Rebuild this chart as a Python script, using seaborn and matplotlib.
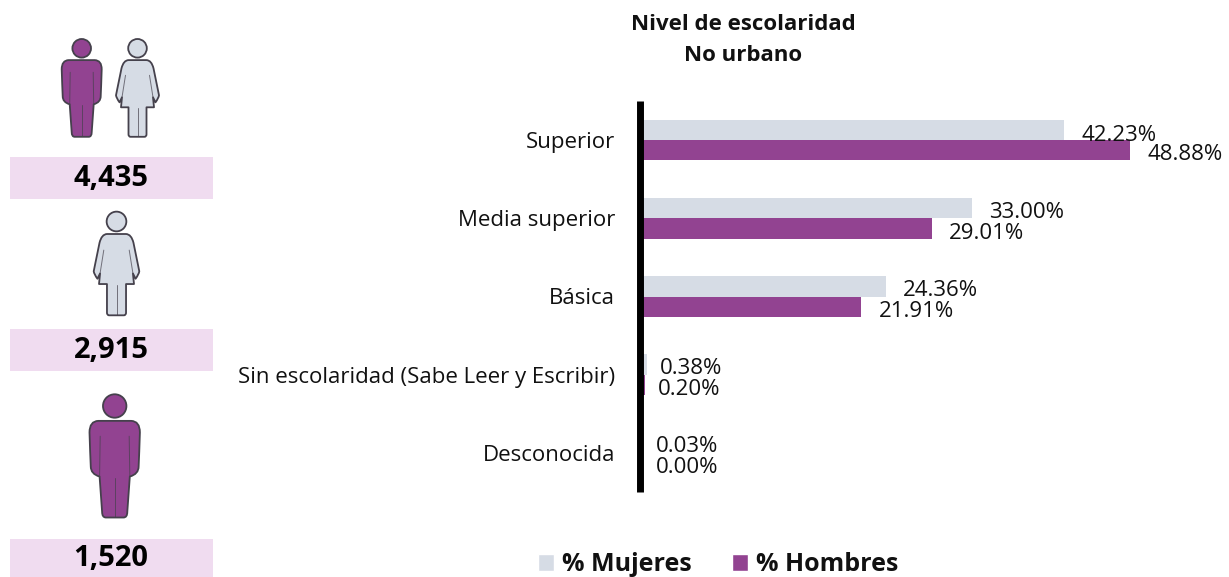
import matplotlib
matplotlib.use("Agg")
import matplotlib.pyplot as plt
from matplotlib.path import Path
from matplotlib.patches import PathPatch, Circle, Rectangle
import pandas as pd
import seaborn as sns

categories = ["Superior", "Media superior", "Básica",
              "Sin escolaridad (Sabe Leer y Escribir)", "Desconocida"]
mujeres = [42.23, 33.00, 24.36, 0.38, 0.03]
hombres = [48.88, 29.01, 21.91, 0.20, 0.00]
series_names = ["% Mujeres", "% Hombres"]
totals = ["4,435", "2,915", "1,520"]
title = "Nivel de escolaridad\nNo urbano"

C_M = "#d6dce5"
C_H = "#924391"
C_BOX = "#f0dcf0"
C_LINE = "#45414c"
FONT = "Open Sans"

sns.set_theme(style="white")
plt.rcParams["font.family"] = [FONT, "DejaVu Sans"]

W, H = 1229, 577
fig = plt.figure(figsize=(W / 100, H / 100), dpi=100, facecolor="white")
ax = fig.add_axes([643 / W, 1 - 492 / H, (W - 643) / W, (492 - 101) / H])

df = pd.DataFrame({
    "cat": categories * 2,
    "pct": mujeres + hombres,
    "serie": [series_names[0]] * 5 + [series_names[1]] * 5,
})
sns.barplot(data=df, y="cat", x="pct", hue="serie", ax=ax, order=categories,
            palette=[C_M, C_H], saturation=1, width=0.52, gap=0, legend=False,
            linewidth=0)
ax.set_xlim(0, (W - 643) / 9.97)
ax.set_ylim(4.5, -0.5)
ax.set_xlabel("")
ax.set_ylabel("")
ax.set_xticks([])
ax.tick_params(axis="y", length=0, pad=17.5, labelsize=16, labelcolor="#111111")
for s in ["top", "right", "bottom"]:
    ax.spines[s].set_visible(False)
ax.spines["left"].set_position(("outward", 2.5))
ax.spines["left"].set_linewidth(5)
ax.spines["left"].set_color("black")
ax.spines["left"].set_capstyle("butt")
ax.patch.set_alpha(0)

for i, (m, h) in enumerate(zip(mujeres, hombres)):
    up, down = (5, 14) if i == 0 else (6, 15)
    for v, dy in ((m, up), (h, -down)):
        ax.annotate(f"{v:.2f}%", xy=(v, i), xytext=(17 if v >= 1 else 13, dy),
                    textcoords="offset pixels", ha="left", va="center",
                    fontsize=16, color="#111111", annotation_clip=False)

fig.text(743 / W, 1 - 40 / H, title, ha="center", va="center", fontsize=16,
         fontweight="bold", color="#111111", linespacing=1.6)

# Left-hand panel, drawn in pixel coordinates
ov = fig.add_axes([0, 0, 1, 1], zorder=-1)
ov.set_xlim(0, W)
ov.set_ylim(H, 0)
ov.axis("off")

M, L, C = Path.MOVETO, Path.LINETO, Path.CURVE3


def outline(pts, codes, cx, cy, s, fc):
    v = [(cx + x * s, cy + y * s) for x, y in pts]
    ov.add_patch(PathPatch(Path(v, codes), fc=fc, ec=C_LINE, lw=1.3, joinstyle="round"))


def stroke(pts, cx, cy, s):
    ov.plot([cx + x * s for x, y in pts], [cy + y * s for x, y in pts],
            color=C_LINE, lw=0.7, alpha=0.7, solid_capstyle="round")


def man(cx, cy, s):
    ov.add_patch(Circle((cx, cy), 9.3 * s, fc=C_H, ec=C_LINE, lw=1.3))
    half = [(0, 11.8), (-13, 11.8), (-20, 12), (-20, 21), (-19.5, 36), (-19, 48), (-19, 54), (-12, 56),
            (-10, 84), (-10, 88.5), (-7, 88.5), (0, 88.5)]
    right = [(-x, y) for x, y in reversed(half[:-1])]
    pts = half + right
    codes = [M, L, C, C, L, L, C, C, L, C, C, L]
    codes += [L, C, C, L, C, C, L, L, C, C, L]
    outline(pts, codes, cx, cy, s, C_H)
    stroke([(-11.5, 24), (-12, 56)], cx, cy, s)
    stroke([(11.5, 24), (12, 56)], cx, cy, s)
    stroke([(0, 57), (0, 88)], cx, cy, s)


def woman(cx, cy, s):
    ov.add_patch(Circle((cx, cy), 9.3 * s, fc=C_M, ec=C_LINE, lw=1.3))
    half = [(0, 11.8), (-9, 11.8), (-14, 12), (-16, 20), (-20.5, 42), (-21.5, 47),
            (-21, 50), (-18, 54), (-15.5, 49), (-16.5, 59), (-9, 59), (-9, 86), (-9, 88.5), (-7, 88.5), (0, 88.5)]
    right = [(-x, y) for x, y in reversed(half[:-1])]
    pts = half + right
    codes = [M, L, C, C, L, L, C, C, L, L, L, L, C, C, L]
    codes += [L, C, C, L, L, L, L, C, C, L, L, C, C, L]
    outline(pts, codes, cx, cy, s, C_M)
    stroke([(-12, 27), (-15.5, 49)], cx, cy, s)
    stroke([(12, 27), (15.5, 49)], cx, cy, s)
    stroke([(0, 60), (0, 88)], cx, cy, s)


man(81.7, 48.3, 1.0)
woman(137.5, 48.3, 1.0)
woman(116.5, 221.5, 1.06)
man(114.7, 406, 1.26)

box_tops = [157, 329, 539]
box_bottoms = [199, 371, 577]
for t, b, label in zip(box_tops, box_bottoms, totals):
    ov.add_patch(Rectangle((10, t), 203, b - t, fc=C_BOX, ec="none"))
    ov.text(111, (t + b) / 2 + 1, label, ha="center", va="center", fontsize=21,
            fontweight="bold", color="black")

# Legend
handles = [Rectangle((0, 0), 1, 1, fc=C_M), Rectangle((0, 0), 1, 1, fc=C_H)]
fig.legend(handles, series_names, loc="center", bbox_to_anchor=(718 / W, 1 - 564.5 / H),
           ncol=2, frameon=False, handlelength=0.66, handleheight=0.66, handletextpad=0.3,
           columnspacing=1.6, prop={"family": FONT, "weight": "bold", "size": 18},
           labelcolor="#111111", borderpad=0)

fig.savefig("out.png", dpi=100)
